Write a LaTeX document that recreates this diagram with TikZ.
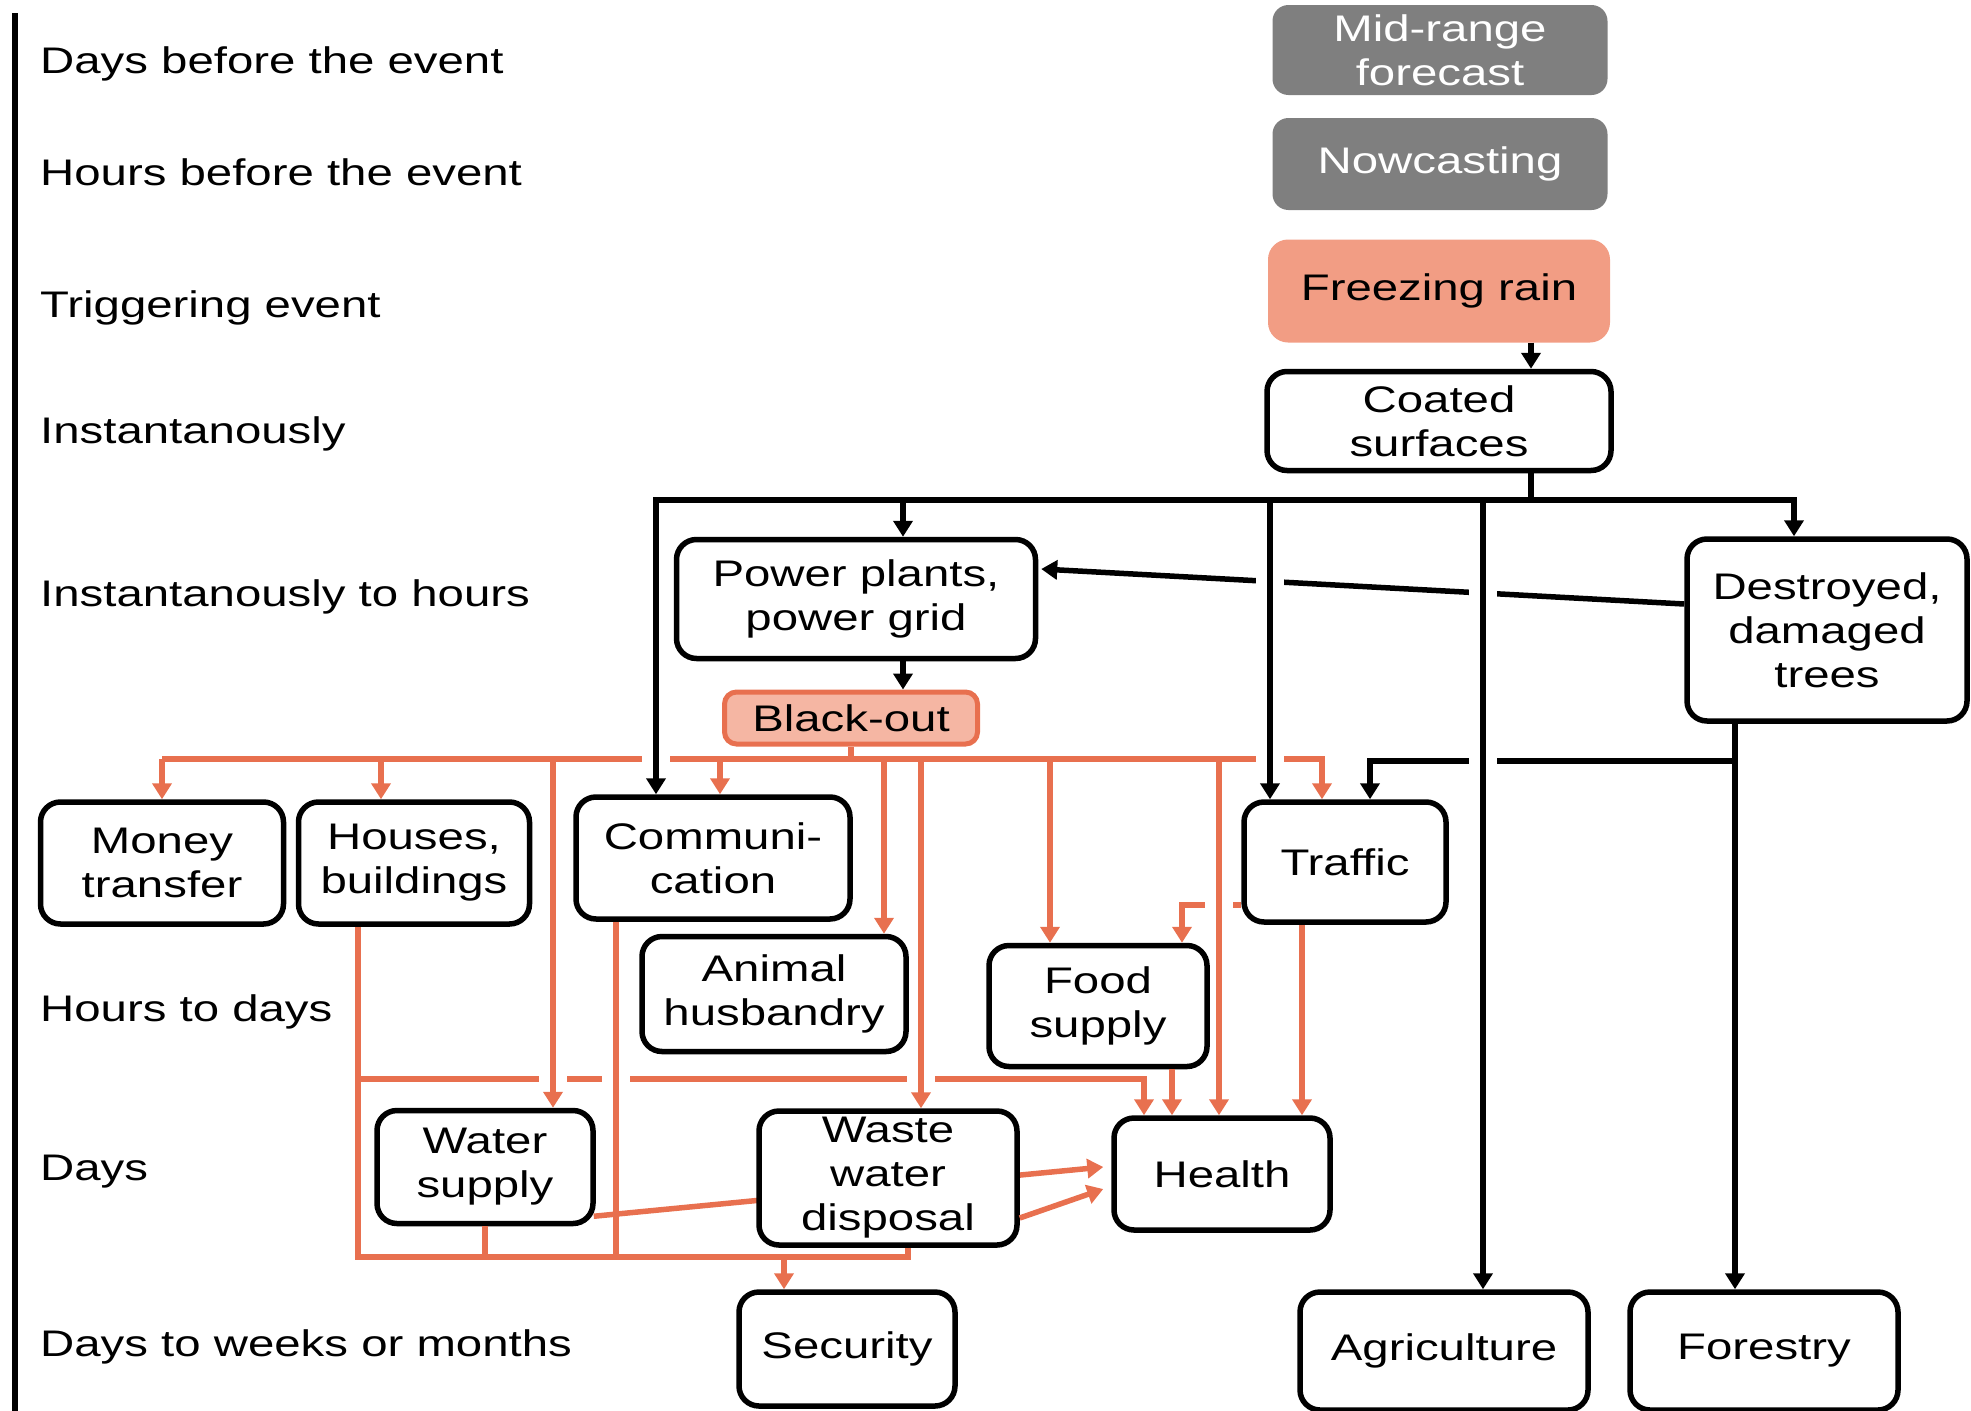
\documentclass[tikz,border=0pt]{standalone}
\usepackage{fontspec}
\setmainfont{Liberation Sans}[FakeStretch=1.28]
\usetikzlibrary{arrows.meta,positioning,calc,backgrounds}
\definecolor{GrisCaja}{HTML}{7F7F7F}
\definecolor{Lluvia}{HTML}{F29D84}
\definecolor{Apagon}{HTML}{F5B6A3}
\definecolor{Naranja}{HTML}{E8704F}
\newcommand{\corte}[2]{\draw[corte] (#1,#2-11) -- (#1,#2+11);}
\tikzset{
  caja/.style    = {draw, line width=5.5pt, rounded corners=20pt, align=center,
                    fill=white, inner sep=2pt},
  gris/.style    = {fill=GrisCaja, text=white, rounded corners=16pt, align=center,
                    minimum width=335pt},
  disparo/.style = {fill=Lluvia, rounded corners=20pt, align=center},
  apagon/.style  = {draw=Naranja, fill=Apagon, line width=5pt, rounded corners=12pt},
  tiempo/.style  = {anchor=base west, inner sep=0pt},
  negra/.style   = {line width=5.5pt},
  flecha/.style  = {-{Triangle[length=16pt,width=19pt]}, line width=5.5pt},
  naranja/.style = {Naranja, line width=5.5pt},
  flechan/.style = {naranja, -{Triangle[length=16pt,width=19pt]}},
  corte/.style   = {white, line width=28pt},
}

\begin{document}
\begin{tikzpicture}[x=1pt, y=-1pt, font=\fontsize{37}{44}\selectfont]
  \useasboundingbox (0,0) rectangle (1971,1411);
  % eje de tiempo
  \draw[line width=5.5pt] (15,13) -- (15,1411);
  \node[tiempo] (tdias)  at (40,73)   {Days before the event};
  \node[tiempo] (thoras) at (40,185)  {Hours before the event};
  \node[tiempo] (tdisp)  at (40,317)  {Triggering event};
  \node[tiempo] (tinst)  at (40,443)  {Instantanously};
  \node[tiempo] (tinsth) at (40,606)  {Instantanously to hours};
  \node[tiempo] (thd)    at (40,1021) {Hours to days};
  \node[tiempo] (td)     at (40,1180) {Days};
  \node[tiempo] (tsem)   at (40,1356) {Days to weeks or months};

  % cajas
  \node[gris, minimum height=90pt] (medio) at (1440,50) {Mid-range\\forecast};
  \node[gris, minimum height=92pt] (now) at (1440,164) {Nowcasting};
  \node[disparo, minimum width=342pt, minimum height=103pt] (lluvia) at (1439,291) {Freezing rain};
  \node[caja, minimum width=344pt, minimum height=99pt] (capa) at (1439,421) {Coated\\surfaces};
  \node[caja, minimum width=359pt, minimum height=119pt] (red) at (856,599) {Power plants,\\power grid};
  \node[caja, minimum width=280pt, minimum height=182pt] (arboles) at (1827,630) {Destroyed,\\damaged\\trees};
  \node[apagon, minimum width=253pt, minimum height=52pt] (apagon) at (851,718) {Black-out};
  \node[caja, minimum width=243pt, minimum height=122pt] (dinero) at (162,863) {Money\\transfer};
  \node[caja, minimum width=231pt, minimum height=122pt] (casas) at (414,863) {Houses,\\buildings};
  \node[caja, minimum width=274pt, minimum height=122pt] (com) at (713,858) {Communi-\\cation};
  \node[caja, minimum width=202pt, minimum height=120pt] (trafico) at (1345,862) {Traffic};
  \node[caja, minimum width=264pt, minimum height=115pt] (animal) at (774,994) {Animal\\husbandry};
  \node[caja, minimum width=218pt, minimum height=121pt] (comida) at (1098,1006) {Food\\supply};
  \node[caja, minimum width=216pt, minimum height=113pt] (agua) at (485,1167) {Water\\supply};
  \node[caja, minimum width=258pt, minimum height=134pt, inner sep=0pt] (residual) at (888,1178) {Waste\\water\\disposal};
  \node[caja, minimum width=216pt, minimum height=112pt] (salud) at (1222,1174) {Health};
  \node[caja, minimum width=216pt, minimum height=114pt] (seguridad) at (847,1349) {Security};
  \node[caja, minimum width=288pt, minimum height=118pt] (agri) at (1444,1351) {Agriculture};
  \node[caja, minimum width=268pt, minimum height=118pt] (bosque) at (1764,1351) {Forestry};

  % puntos de las barras
  \coordinate (cx) at (1531,500);
  \coordinate (b1) at (656,500);
  \coordinate (b2) at (1794,500);
  \coordinate (px) at (903,500);
  \coordinate (tx) at (1270,500);
  \coordinate (ax) at (1483,500);
  \coordinate (fx) at (1735,761);
  \coordinate (oa) at (381,759);
  \coordinate (ob) at (553,759);
  \coordinate (oc) at (720,759);
  \coordinate (od) at (884,759);
  \coordinate (oe) at (921,759);
  \coordinate (of) at (1050,759);
  \coordinate (og) at (1219,759);
  \coordinate (oh) at (1322,759);
  \coordinate (hh) at (358,1079);
  \coordinate (sb) at (358,1257);
  \coordinate (sr) at (908,1257);
  \coordinate (cv) at (616,1257);
  \coordinate (sv) at (784,1257);

  % agua -> salud, por detras de la caja
  \begin{scope}[on background layer]
    \draw[flechan] ($(agua.south east)+(-2,-10)$) -- ($(salud.west)+(-8,-7)$);
  \end{scope}

  % lineas de fondo
  \draw[flecha] ($(arboles.west)+(0,-26)$) -- ($(red.east)+(3,-30)$);
  \draw[flecha] (fx) -| ($(trafico.north)+(25,0)$);
  \draw[naranja] (apagon.south) -- (apagon.south |- oa);
  \draw[flechan] (dinero.north |- oa) -- (dinero.north);
  \draw[flechan] (dinero.north |- oa) -| (oh |- trafico.north);
  \draw[flechan] (casas.south -| hh) -- (hh) -| ($(salud.north)+(-78,0)$);
  \draw[flechan] ($(trafico.west)+(0,43)$) -| ($(comida.north)+(84,0)$);
  \corte{1270}{580} \corte{1483}{592} \corte{1483}{761}
  \corte{656}{759} \corte{1270}{759}
  \corte{553}{1079} \corte{616}{1079} \corte{921}{1079}
  \corte{1219}{904}

  % negras
  \draw[flecha] (lluvia.south -| cx) -- (capa.north -| cx);
  \draw[negra] (capa.south -| cx) -- (cx);
  \draw[flecha] (cx) -- (b1) -- (b1 |- com.north);
  \draw[flecha] (cx) -- (b2) -- (b2 |- arboles.north);
  \draw[flecha] (px) -- (px |- red.north);
  \draw[flecha] (px |- red.south) -- (px |- apagon.north);
  \draw[flecha] (tx) -- (tx |- trafico.north);
  \draw[flecha] (ax) -- (ax |- agri.north);
  \draw[flecha] (arboles.south -| fx) -- (fx |- bosque.north);

  % naranjas
  \draw[flechan] (oa) -- (oa |- casas.north);
  \draw[flechan] (ob) -- (ob |- agua.north);
  \draw[flechan] (oc) -- (oc |- com.north);
  \draw[flechan] (od) -- (od |- animal.north);
  \draw[flechan] (oe) -- (oe |- residual.north);
  \draw[flechan] (of) -- (of |- comida.north);
  \draw[flechan] (og) -- (og |- salud.north);
  \draw[flechan] ($(trafico.south)+(-43,0)$) -- ($(salud.north)+(80,0)$);
  \draw[flechan] ($(comida.south)+(74,0)$) -- ($(salud.north)+(-50,0)$);
  \draw[flechan] ($(residual.east)+(0,40)$) -- ($(salud.west)+(-8,15)$);
  \draw[naranja] (hh) -- (sb) -- (sr) -- (sr |- residual.south);
  \draw[naranja] (com.south -| cv) -- (cv);
  \draw[naranja] (agua.south) -- (agua.south |- sb);
  \draw[flechan] (sv) -- (sv |- seguridad.north);
\end{tikzpicture}
\end{document}
